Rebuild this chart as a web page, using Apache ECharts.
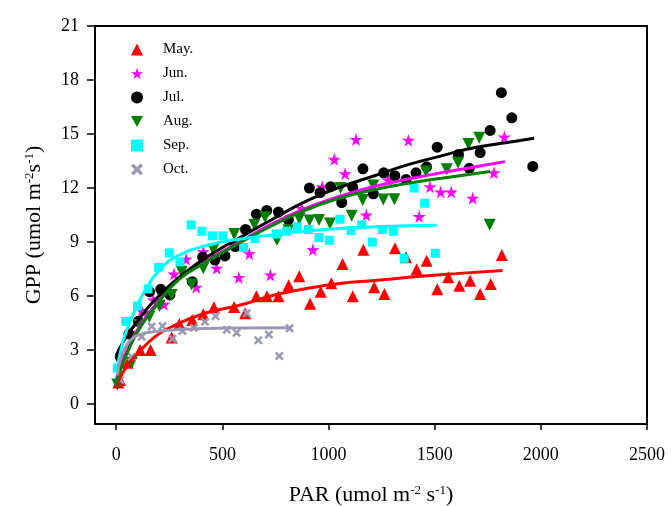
<!DOCTYPE html>
<html><head><meta charset="utf-8">
<script src="https://cdn.jsdelivr.net/npm/echarts@6/dist/echarts.min.js"></script>
<style>html,body{margin:0;padding:0;background:#fff}#c{width:671px;height:506px}</style>
</head><body><div id="c"></div>
<script>
// ---- data ----
const xTicks = [0, 500, 1000, 1500, 2000, 2500];
const yTicks = [0, 3, 6, 9, 12, 15, 18, 21];
const monthNames = ['May.', 'Jun.', 'Jul.', 'Aug.', 'Sep.', 'Oct.'];

const mayPts = [[10,1.2],[18,1.34],[54,2.3],[112,3.01],[162,3.01],[261,3.7],[297,4.45],[358,4.68],[410,5.0],[460,5.38],[555,5.4],[607,5.05],[660,6.0],[710,6.0],[764,6.0],[812,6.6],[862,7.1],[913,5.58],[963,6.25],[1013,6.72],[1066,7.79],[1114,6.0],[1164,8.57],[1215,6.5],[1263,6.12],[1313,8.66],[1365,8.16],[1415,7.49],[1462,7.97],[1512,6.38],[1564,7.05],[1616,6.57],[1667,6.86],[1714,6.12],[1764,6.68],[1816,8.29]];
const junPts = [[20,2.55],[73,4.0],[120,5.2],[175,5.8],[225,5.55],[272,7.23],[329,8.05],[377,6.5],[410,8.47],[473,7.55],[577,7.04],[627,8.36],[726,7.18],[874,10.86],[926,8.57],[970,12.08],[1027,13.6],[1078,12.79],[1129,14.7],[1178,10.51],[1281,12.45],[1376,14.66],[1427,10.42],[1478,12.08],[1528,11.78],[1578,11.78],[1679,11.44],[1779,12.85],[1828,14.83]];
const julPts = [[20,2.6],[60,3.9],[104,4.6],[157,6.25],[210,6.38],[253,6.07],[358,6.8],[407,8.16],[465,8.0],[512,8.23],[560,8.75],[609,9.7],[660,10.55],[709,10.76],[764,10.67],[811,10.23],[910,12.0],[960,11.75],[1010,12.08],[1062,11.2],[1114,12.05],[1162,13.07],[1211,11.68],[1260,12.85],[1312,12.69],[1365,12.48],[1412,12.85],[1462,13.18],[1512,14.27],[1612,13.87],[1663,13.1],[1714,13.97],[1761,15.2],[1814,17.3],[1863,15.9],[1962,13.2]];
const augPts = [[5,1.1],[73,2.3],[109,4.4],[156,4.86],[203,5.45],[261,6.07],[308,7.36],[355,6.65],[410,7.55],[457,8.57],[556,9.45],[651,9.96],[701,10.38],[757,9.12],[811,9.66],[862,10.3],[910,10.2],[955,10.23],[1007,10.03],[1057,12.0],[1109,10.46],[1161,11.34],[1211,12.15],[1258,11.36],[1310,11.38],[1459,12.92],[1557,13.05],[1610,13.4],[1659,14.45],[1710,14.8],[1759,9.96]];
const sepPts = [[5,2.0],[45,4.6],[100,5.45],[150,6.4],[200,7.6],[250,8.4],[300,7.9],[353,9.95],[403,9.6],[453,9.35],[503,9.35],[600,8.7],[654,9.2],[755,9.45],[803,9.6],[853,9.85],[905,9.7],[955,9.25],[1004,9.1],[1054,10.27],[1106,9.64],[1156,9.96],[1206,9.0],[1253,9.7],[1305,9.6],[1356,8.1],[1403,12.0],[1453,11.16],[1503,8.38]];
const octPts = [[18,1.34],[73,2.64],[120,3.75],[167,4.32],[218,4.34],[265,3.63],[312,4.07],[365,4.25],[418,4.58],[468,4.88],[521,4.14],[567,3.97],[615,5.05],[669,3.55],[719,3.87],[768,2.68],[817,4.21]];

// fitted curves
const mayFit = [[0,0.9],[10,1.3],[50,2.1],[104,2.85],[183,3.75],[261,4.3],[418,5.05],[590,5.52],[740,6.05],[897,6.42],[1054,6.7],[1230,6.88],[1400,7.07],[1600,7.25],[1820,7.42]];
const junFit = [[0,1.3],[10,1.75],[50,2.95],[104,4.2],[183,5.5],[293,6.95],[418,7.9],[580,9.0],[740,10.05],[897,10.9],[1054,11.55],[1219,12.1],[1376,12.5],[1533,12.85],[1700,13.2],[1831,13.47]];
const julFit = [[0,2.7],[40,3.6],[100,4.6],[183,5.8],[340,7.45],[465,8.45],[590,9.3],[740,10.3],[900,11.3],[1055,12.05],[1220,12.7],[1375,13.3],[1535,13.8],[1690,14.25],[1880,14.6],[1968,14.77]];
const augFit = [[0,1.1],[10,1.6],[50,2.8],[104,4.1],[183,5.4],[293,6.9],[418,7.85],[580,8.95],[740,9.95],[897,10.8],[1054,11.45],[1230,11.95],[1376,12.27],[1533,12.55],[1761,12.92]];
const sepFit = [[0,1.8],[20,2.9],[40,3.8],[80,5.0],[130,6.2],[200,7.4],[300,8.3],[440,8.85],[600,9.2],[750,9.42],[900,9.62],[1050,9.76],[1250,9.86],[1510,9.94]];
const octFit = [[5,1.6],[20,2.5],[50,3.3],[81,3.7],[120,3.9],[160,4.0],[260,4.12],[420,4.2],[580,4.23],[819,4.25]];

// ---- styling ----
const colors = ['#ff0000', '#ff00ff', '#000000', '#008000', '#00ffff', '#9999b5'];
const STAR = 'path://M50,0 L61,35 L98,35 L68,57 L79,91 L50,70 L21,91 L32,57 L2,35 L39,35 Z';
const TRI_DOWN = 'path://M0,0 L10,0 L5,9 Z';
const XMARK = 'path://M2,0 L5,3 L8,0 L10,2 L7,5 L10,8 L8,10 L5,7 L2,10 L0,8 L3,5 L0,2 Z';
const symbols = ['triangle', STAR, 'circle', TRI_DOWN, 'rect', XMARK];
const sizes = [12, 13, 11, 12, 9, 9];
const pts = [mayPts, junPts, julPts, augPts, sepPts, octPts];
const fits = [mayFit, junFit, julFit, augFit, sepFit, octFit];
const FONT = 'Liberation Serif';

const series = [];
monthNames.forEach((n, i) => {
  series.push({
    name: n, type: 'scatter', data: pts[i], symbol: symbols[i], symbolSize: sizes[i],
    itemStyle: { color: colors[i], opacity: 1 }, z: 2, animation: false
  });
});
monthNames.forEach((n, i) => {
  series.push({
    name: n + ' fit', type: 'line', data: fits[i], smooth: true, showSymbol: false,
    lineStyle: { color: colors[i], width: 3 }, itemStyle: { color: colors[i] }, z: 3, animation: false
  });
});

const chart = echarts.init(document.getElementById('c'), null, { renderer: 'canvas' });
chart.setOption({
  backgroundColor: '#ffffff',
  animation: false,
  grid: { left: 95, right: 24, top: 26, bottom: 82, show: true, borderColor: '#000', borderWidth: 2, backgroundColor: 'transparent', containLabel: false, outerBoundsMode: 'none' },
  legend: {
    orient: 'vertical', left: 126, top: 37, itemWidth: 12, itemHeight: 12, itemGap: 9,
    data: monthNames.map((n, i) => ({ name: n, icon: symbols[i], itemStyle: { color: colors[i] } })),
    textStyle: { fontFamily: FONT, fontSize: 15, color: '#000', padding: [0, 0, 0, 15] },
    selectedMode: false
  },
  xAxis: {
    type: 'value', min: -100, max: 2500,
    splitLine: { show: false },
    axisLine: { show: true, onZero: false, lineStyle: { color: '#000', width: 2 } },
    axisTick: { show: true, inside: false, length: 6, customValues: xTicks, lineStyle: { color: '#000', width: 1.5 } },
    axisLabel: { customValues: xTicks, formatter: v => String(v), fontFamily: FONT, fontSize: 18, color: '#000', margin: 22 },
    name: '{t|PAR (umol m}{s|-2}{t| s}{s|-1}{t|)}',
    nameLocation: 'middle', nameGap: 60,
    nameTextStyle: { rich: { t: { fontFamily: FONT, fontSize: 22, color: '#000' }, s: { fontFamily: FONT, fontSize: 13, color: '#000', verticalAlign: 'top', padding: [0, 0, 10, 0] } } }
  },
  yAxis: {
    type: 'value', min: -1.1, max: 21,
    splitLine: { show: false },
    axisLine: { show: true, onZero: false, lineStyle: { color: '#000', width: 2 } },
    axisTick: { show: true, inside: false, length: 8, customValues: yTicks, lineStyle: { color: '#000', width: 1.5 } },
    axisLabel: { customValues: yTicks, formatter: v => String(v), fontFamily: FONT, fontSize: 18, color: '#000', margin: 16 },
    name: '{t|GPP (umol m}{s|-2}{t|s}{s|-1}{t|)}',
    nameLocation: 'middle', nameGap: 49, nameRotate: 90,
    nameTextStyle: { rich: { t: { fontFamily: FONT, fontSize: 22, color: '#000' }, s: { fontFamily: FONT, fontSize: 13, color: '#000', verticalAlign: 'top', padding: [0, 0, 10, 0] } } }
  },
  series: series
});
</script>
</body></html>
